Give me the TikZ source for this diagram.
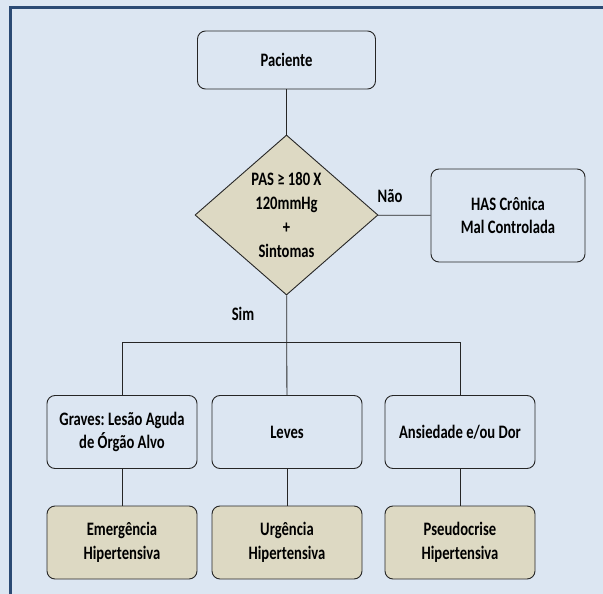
\documentclass[tikz,border=0pt]{standalone}
\usepackage{fontspec}
\setmainfont{Carlito}[FakeStretch=0.77]
\usetikzlibrary{shapes.geometric}
\definecolor{fundo}{HTML}{DCE6F2}
\definecolor{moldura}{HTML}{2B4A74}
\definecolor{bege}{HTML}{DDD9C3}
\definecolor{contorno}{HTML}{262626}
\tikzstyle{caixa}=[draw=contorno,line width=0.9pt,rounded corners=8pt,align=flush center,text width=140pt,minimum height=73pt,inner sep=0pt,font=\bfseries\fontsize{19}{23.5}\selectfont]
\tikzstyle{caixab}=[caixa,fill=bege]
\tikzstyle{decisao}=[diamond,draw=contorno,line width=0.9pt,fill=bege,align=center,minimum width=183pt,minimum height=160pt,inner sep=0pt,font=\bfseries\fontsize{19}{24}\selectfont]
\tikzstyle{liga}=[draw=contorno,line width=0.8pt]
\tikzstyle{rotulo}=[font=\bfseries\fontsize{19}{23}\selectfont]

\begin{document}
\frenchspacing
\begin{tikzpicture}[x=1pt,y=-1pt]
    \useasboundingbox[fill=fundo] (0,0) rectangle (603,594);
    \draw[moldura,line width=3.5pt] (10.5,600) -- (10.5,7.5) -- (610,7.5);
    \node[caixa,minimum width=178pt,text width=170pt,minimum height=58pt] (pac) at (286.5,60) {Paciente};
    \node[decisao] (pas) at (286.5,215) {PAS ≥ 180 X\\120mmHg\\+\\Sintomas};
    \node[caixa,minimum width=154pt,text width=146pt,minimum height=93pt] (has) at (508,215.5) {HAS Crônica\\Mal Controlada};
    \node[caixa,minimum width=150pt] (g1) at (122,432) {Graves: Lesão Aguda\\de Órgão Alvo};
    \node[caixa,minimum width=150pt] (g2) at (287,432) {Leves};
    \node[caixa,minimum width=150pt] (g3) at (460,432) {Ansiedade e/ou Dor};
    \node[caixab,minimum width=150pt] (c1) at (122,542.5) {Emergência\\Hipertensiva};
    \node[caixab,minimum width=150pt] (c2) at (287,542.5) {Urgência\\Hipertensiva};
    \node[caixab,minimum width=150pt] (c3) at (460,542.5) {Pseudocrise\\Hipertensiva};
    \node[rotulo] (nao) at (390,196) {Não};
    \node[rotulo] (sim) at (243,314) {Sim};
    \coordinate (be) at (122,342);
    \coordinate (bd) at (460,342);

    \draw[liga] (be) -- (bd);
    \foreach \from/\to in {pac/pas,pas/has,pas/g2,be/g1,bd/g3,g1/c1,g2/c2,g3/c3}
    \draw[liga] (\from) -- (\to);
\end{tikzpicture}
\end{document}
